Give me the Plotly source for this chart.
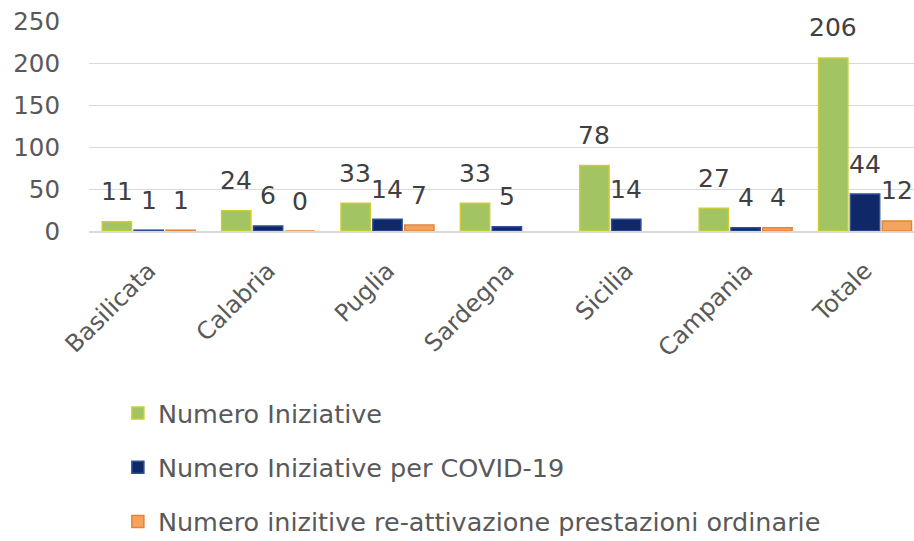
import plotly.graph_objects as go

categories = ["Basilicata", "Calabria", "Puglia", "Sardegna", "Sicilia", "Campania", "Totale"]
series_names = [
    "Numero Iniziative",
    "Numero Iniziative per COVID-19",
    "Numero inizitive re-attivazione prestazioni ordinarie",
]
numero_iniziative = [11, 24, 33, 33, 78, 27, 206]
iniziative_covid = [1, 6, 14, 5, 14, 4, 44]
reattivazione = [1, 0, 7, None, None, 4, 12]
y_ticks = [0, 50, 100, 150, 200, 250]

all_series = [numero_iniziative, iniziative_covid, reattivazione]
fills = ["#A2C462", "#0E2868", "#F6A35C"]
lines = ["#CFCB35", "#2F4F94", "#E3843A"]
FONT = "DejaVu Sans"

fig = go.Figure()
for i, (name, vals) in enumerate(zip(series_names, all_series)):
    fig.add_trace(go.Bar(
        x=categories, y=vals, name=name, legendgroup=f"g{i}",
        marker=dict(color=fills[i], line=dict(color=lines[i], width=1.5)),
    ))

shifts = [-32, 0, 32]
annotations = []
for i, vals in enumerate(all_series):
    for c, v in zip(categories, vals):
        if v is None:
            continue
        annotations.append(dict(
            x=c, y=v, text=str(v), showarrow=False, xref="x", yref="y",
            xshift=shifts[i], yshift=30,
            font=dict(family=FONT, size=25, color="#404040"),
        ))

fig.update_layout(
    width=914, height=541,
    margin=dict(l=89, r=0, t=21, b=310, autoexpand=False),
    paper_bgcolor="white", plot_bgcolor="white",
    barmode="group", bargap=0.2, bargroupgap=0.08,
    font=dict(family=FONT, size=25, color="#595959"),
    annotations=annotations,
    showlegend=True,
    legend=dict(
        orientation="v", x=0.035, xanchor="left", y=-0.7572, yanchor="top",
        font=dict(family=FONT, size=25.5, color="#595959"),
        traceorder="grouped", tracegroupgap=18, bgcolor="rgba(0,0,0,0)",
    ),
    xaxis=dict(
        range=[-0.5, 6.41], tickangle=-45, showgrid=False, automargin=False,
        showline=True, linecolor="#D9D9D9", linewidth=2,
        ticks="", ticklabelstandoff=14,
        tickfont=dict(family=FONT, size=24, color="#595959"),
    ),
    yaxis=dict(
        range=[0, 250], tickvals=y_ticks, showgrid=True, gridcolor="#D9D9D9",
        gridwidth=1, zeroline=False, ticks="", ticklabelstandoff=28,
        automargin=False,
        tickfont=dict(family=FONT, size=24.5, color="#595959"),
    ),
)

fig.write_html(
    "out.html",
    config={"displayModeBar": False},
    post_script="document.body.style.margin='0';",
)
